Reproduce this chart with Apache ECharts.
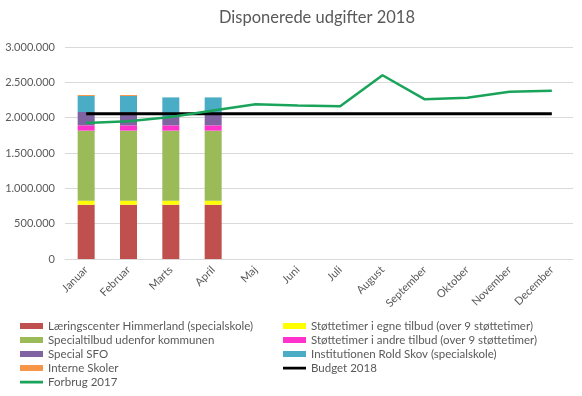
<!DOCTYPE html>
<html>
<head>
<meta charset="utf-8">
<script src="https://cdn.jsdelivr.net/npm/echarts@6/dist/echarts.min.js"></script>
<style>
  html, body { margin: 0; padding: 0; background: #ffffff; }
  #chart { width: 582px; height: 396px; }
</style>
</head>
<body>
<div id="chart"></div>
<script>
var months = ["Januar", "Februar", "Marts", "April", "Maj", "Juni", "Juli",
  "August", "September", "Oktober", "November", "December"];

// stacked parts, Jan-Apr
var laering = [768000, 768000, 768000, 768000];
var stotteEgne = [57000, 57000, 57000, 57000];
var specialtilbud = [991000, 991000, 991000, 991000];
var stotteAndre = [75000, 75000, 75000, 75000];
var specialSFO = [189000, 189000, 127000, 161000];
var roldSkov = [227000, 227000, 269000, 235000];
var interne = [14000, 14000, 0, 0];

var budget2018 = [2055000, 2055000, 2055000, 2055000, 2055000, 2055000,
  2055000, 2055000, 2055000, 2055000, 2055000, 2055000];
var forbrug2017 = [1925000, 1948000, 2010000, 2100000, 2189000, 2172000,
  2160000, 2600000, 2260000, 2283000, 2368000, 2382000];

var txt = "#595959";
var font = "Lato, 'Open Sans', sans-serif";
// thin line icon in a 23x6 box
var lineIcon = "path://M0,0h0.01v0.01h-0.01z M0,1.8h23v2.6h-23z M22.99,5.99h0.01v0.01h-0.01z";

function bar(name, data, color) {
  return {
    name: name, type: "bar", stack: "total", data: data,
    barWidth: 17, itemStyle: { color: color }
  };
}

var legendText = { color: txt, fontSize: 11.5, lineHeight: 14, fontFamily: font };

var chart = echarts.init(document.getElementById("chart"));
chart.setOption({
  animation: false,
  textStyle: { fontFamily: font },
  title: {
    text: "Disponerede udgifter 2018",
    left: 312, top: 4, textAlign: "center",
    textStyle: { color: txt, fontSize: 16.5, fontWeight: "normal", fontFamily: font }
  },
  grid: { left: 65, right: 9, top: 47, bottom: 137, containLabel: false },
  legend: [
    {
      orient: "vertical", left: 20, top: 319, padding: 0, itemWidth: 23, itemHeight: 6,
      itemGap: 0, textStyle: legendText,
      data: [
        { name: "Læringscenter Himmerland (specialskole)", icon: "rect" },
        { name: "Specialtilbud udenfor kommunen", icon: "rect" },
        { name: "Special SFO", icon: "rect" },
        { name: "Interne Skoler", icon: "rect" },
        { name: "Forbrug 2017", icon: lineIcon }
      ]
    },
    {
      orient: "vertical", left: 283, top: 319, padding: 0, itemWidth: 23, itemHeight: 6,
      itemGap: 0, textStyle: legendText,
      data: [
        { name: "Støttetimer i egne tilbud (over 9 støttetimer)", icon: "rect" },
        { name: "Støttetimer i andre tilbud (over 9 støttetimer)", icon: "rect" },
        { name: "Institutionen Rold Skov (specialskole)", icon: "rect" },
        { name: "Budget 2018", icon: lineIcon }
      ]
    }
  ],
  xAxis: {
    type: "category", data: months,
    axisLine: { lineStyle: { color: "#D9D9D9" } },
    axisTick: { show: false },
    axisLabel: { color: txt, fontSize: 11, rotate: 45, margin: 9, interval: 0, fontFamily: font }
  },
  yAxis: {
    type: "value", min: 0, max: 3000000, interval: 500000,
    axisLine: { show: false }, axisTick: { show: false },
    splitLine: { lineStyle: { color: "#D9D9D9" } },
    axisLabel: {
      color: txt, fontSize: 11, margin: 10, fontFamily: font,
      formatter: function (v) { return String(v).replace(/\B(?=(\d{3})+(?!\d))/g, "."); }
    }
  },
  series: [
    bar("Læringscenter Himmerland (specialskole)", laering, "#C0504D"),
    bar("Støttetimer i egne tilbud (over 9 støttetimer)", stotteEgne, "#FFFF00"),
    bar("Specialtilbud udenfor kommunen", specialtilbud, "#9BBB59"),
    bar("Støttetimer i andre tilbud (over 9 støttetimer)", stotteAndre, "#FF33CC"),
    bar("Special SFO", specialSFO, "#8064A2"),
    bar("Institutionen Rold Skov (specialskole)", roldSkov, "#4BACC6"),
    bar("Interne Skoler", interne, "#F79646"),
    {
      name: "Budget 2018", type: "line", data: budget2018, symbol: "none",
      itemStyle: { color: "#000000" }, lineStyle: { color: "#000000", width: 3 }
    },
    {
      name: "Forbrug 2017", type: "line", data: forbrug2017, symbol: "none",
      itemStyle: { color: "#1AA35A" }, lineStyle: { color: "#1AA35A", width: 2.5 }
    }
  ]
});
</script>
</body>
</html>
